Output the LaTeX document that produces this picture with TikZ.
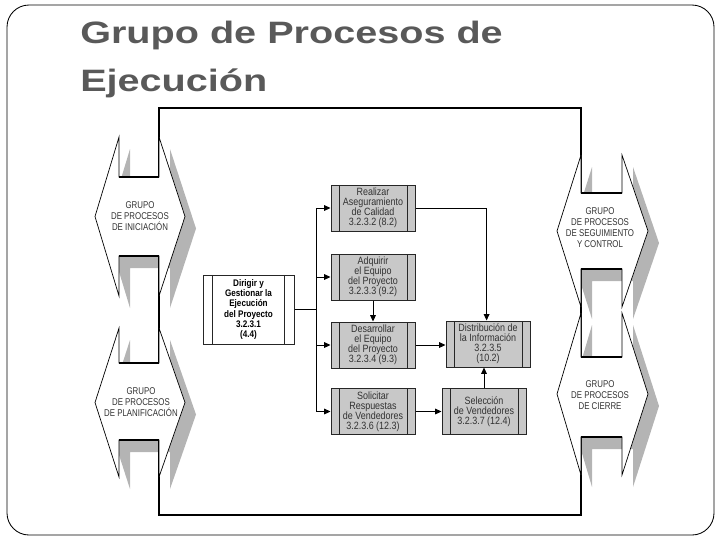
\documentclass[tikz,border=0pt]{standalone}
\usepackage{fontspec}
\setmainfont{Liberation Sans}
\newfontfamily\titulofont[FakeStretch=1.28]{Liberation Sans}
\newfontfamily\procfont[FakeStretch=0.85]{Liberation Sans}
\newfontfamily\grupofont[FakeStretch=0.8]{Liberation Sans}
\usepackage{tikz}
\usetikzlibrary{arrows.meta, positioning, calc}
\definecolor{grisproc}{RGB}{200,200,200}
\definecolor{grissombra}{RGB}{180,180,180}
\definecolor{gristitulo}{RGB}{89,89,89}
\definecolor{gristexto}{RGB}{50,50,50}
\tikzset{
  barras/.style = {path picture={
      \draw[line width=0.7pt]
        ($(path picture bounding box.north west)+(#1,0)$) -- ($(path picture bounding box.south west)+(#1,0)$)
        ($(path picture bounding box.north east)+(-#1,0)$) -- ($(path picture bounding box.south east)+(-#1,0)$);}},
  proc/.style   = {rectangle, draw=black!85, fill=grisproc, line width=0.7pt,
                   align=center, text=gristexto, inner sep=0pt,
                   font=\procfont\fontsize{7.5}{7.2}\selectfont,
                   minimum width=2.1cm, minimum height=1.15cm, barras=8},
  dirbox/.style = {proc, fill=white, text=black,
                   font=\procfont\bfseries\fontsize{6.8}{7.2}\selectfont,
                   minimum width=2.275cm, minimum height=1.725cm, barras=9.5},
  grupotexto/.style = {align=center, text=gristexto, inner sep=0pt,
                   font=\grupofont\fontsize{7}{7.8}\selectfont},
  grupo/.style  = {fill=white, draw=black, line width=0.5pt, line join=miter},
  sombra/.style = {fill=grissombra},
  muesca/.style = {line width=1pt},
  marco/.style  = {line width=1.5pt},
  linea/.style  = {line width=0.7pt},
  flecha/.style = {linea, -{Triangle[length=4.5pt, width=4pt]}},
  titulo/.style = {align=left, text=gristitulo, inner sep=0pt,
                   font=\titulofont\bfseries\fontsize{22}{34}\selectfont},
}
% xa/xb: notch walls, ya: top tips, yb: top notch, yc: bottom notch, yd: bottom tips
\def\grupos{119/159/137/177/256/296, 119/159/328/363/440/477,
            581/622/155/193/269/307, 581/622/313/357/437/475}

\begin{document}
\begin{tikzpicture}[x=0.025cm, y=-0.025cm]
  \useasboundingbox (0,0) rectangle (720,540);
  \draw[line width=0.6pt, rounded corners=0.55cm] (7,5) rectangle (714,535);

  \node[titulo, anchor=north west] (titulo) at (80,21)
    {Grupo de Procesos de\\Ejecución};

  % group arrows: shadows, frame, then bodies
  \foreach \xa/\xb/\ya/\yb/\yc/\yd in \grupos
    \fill[sombra, shift={(11,12)}] (\xa,\ya) -- ({\xa-24},{(\ya+\yd)/2}) -- (\xa,\yd)
      -- (\xa,\yc) -- (\xb,\yc) -- (\xb,\yd) -- ({\xb+26},{(\ya+\yd)/2}) -- (\xb,\ya)
      -- (\xb,\yb) -- (\xa,\yb) -- cycle;
  \draw[marco] (159,108) rectangle (581,515);
  \foreach \xa/\xb/\ya/\yb/\yc/\yd in \grupos {
    \filldraw[grupo] (\xa,\ya) -- ({\xa-24},{(\ya+\yd)/2}) -- (\xa,\yd)
      -- (\xa,\yc) -- (\xb,\yc) -- (\xb,\yd) -- ({\xb+26},{(\ya+\yd)/2}) -- (\xb,\ya)
      -- (\xb,\yb) -- (\xa,\yb) -- cycle;
    \draw[muesca] (\xa,\yb) -- (\xb,\yb) (\xa,\yc) -- (\xb,\yc);
  }
  \node[grupotexto] (iniciacion) at (140,216) {GRUPO\\DE PROCESOS\\DE INICIACIÓN};
  \node[grupotexto] (planificacion) at (141,402) {GRUPO\\DE PROCESOS\\DE PLANIFICACIÓN};
  \node[grupotexto] (seguimiento) at (600,228) {GRUPO\\DE PROCESOS\\DE SEGUIMIENTO\\Y CONTROL};
  \node[grupotexto] (cierre) at (600,395) {GRUPO\\DE PROCESOS\\DE CIERRE};

  % processes
  \node[dirbox] (dirigir) at (248.5,309.5)
    {Dirigir y\\Gestionar la\\Ejecución\\del Proyecto\\3.2.3.1\\(4.4)};
  \node[proc] (realizar) at (373,208)
    {Realizar\\Aseguramiento\\de Calidad\\3.2.3.2 (8.2)};
  \node[proc] (adquirir) at (373,277)
    {Adquirir\\el Equipo\\del Proyecto\\3.2.3.3 (9.2)};
  \node[proc] (desarrollar) at (373,345)
    {Desarrollar\\el Equipo\\del Proyecto\\3.2.3.4 (9.3)};
  \node[proc] (solicitar) at (373,411.5)
    {Solicitar\\Respuestas\\de Vendedores\\3.2.3.6 (12.3)};
  \node[proc] (distribucion) at (488,344)
    {Distribución de\\la Información\\3.2.3.5\\(10.2)};
  \node[proc] (seleccion) at (484,411.5)
    {Selección\\de Vendedores\\3.2.3.7 (12.4)};

  % connectors
  \coordinate (bus) at (316,309.5);
  \draw[linea] (dirigir.east) -- (bus);
  \draw[linea] (realizar.west -| bus) -- (solicitar.west -| bus);
  \foreach \p in {realizar, adquirir, desarrollar, solicitar}
    \draw[flecha] (\p.west -| bus) -- (\p.west);
  \draw[flecha] (realizar.east) -| ([xshift=-1]distribucion.north);
  \draw[flecha] (adquirir) -- (desarrollar);
  \draw[flecha] (desarrollar.east) -- (desarrollar.east -| distribucion.west);
  \draw[flecha] (solicitar.east) -- (seleccion.west);
  \draw[flecha] (seleccion.north) -- (seleccion.north |- distribucion.south);
\end{tikzpicture}
\end{document}
